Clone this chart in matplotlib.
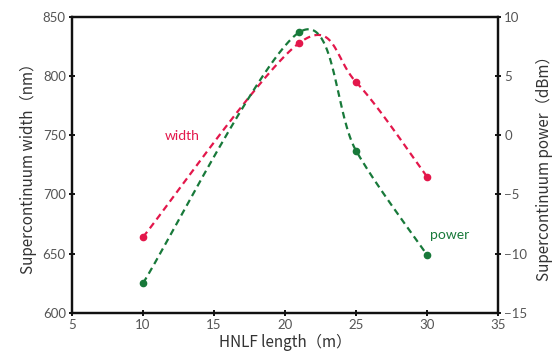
import numpy as np
import matplotlib
matplotlib.use("Agg")
import matplotlib.pyplot as plt

plt.rcParams['font.family'] = ['Lato', 'DejaVu Sans']

length = [10, 21, 25, 30]
width = [664, 828, 795, 715]
power = [-12.5, 8.7, -1.3, -10.1]

red = '#e3174b'
green = '#18793a'


def smooth(xs, ys, n=60):
    # excel-like smoothed line (bezier through the points)
    xs = np.asarray(xs, float)
    ys = np.asarray(ys, float)
    px = np.concatenate([[xs[0]], xs, [xs[-1]]])
    py = np.concatenate([[ys[0]], ys, [ys[-1]]])
    ox, oy = [], []
    t = np.linspace(0, 1, n)
    for i in range(1, len(px) - 2):
        p0x, p0y = px[i], py[i]
        p3x, p3y = px[i + 1], py[i + 1]
        c1x = p0x + (px[i + 1] - px[i - 1]) / 6
        c1y = p0y + (py[i + 1] - py[i - 1]) / 6
        c2x = p3x - (px[i + 2] - px[i]) / 6
        c2y = p3y - (py[i + 2] - py[i]) / 6
        bx = (1-t)**3*p0x + 3*(1-t)**2*t*c1x + 3*(1-t)*t**2*c2x + t**3*p3x
        by = (1-t)**3*p0y + 3*(1-t)**2*t*c1y + 3*(1-t)*t**2*c2y + t**3*p3y
        ox.extend(bx)
        oy.extend(by)
    return ox, oy


fig = plt.figure(figsize=(5.54, 3.6), dpi=100)
ax = fig.add_axes([0.13, 0.131, 0.769, 0.822])
ax2 = ax.twinx()

sx, sy = smooth(length, width)
ax.plot(sx, sy, color=red, lw=1.6, ls=(0, (3, 2)))
ax.plot(length, width, 'o', color=red, ms=4.5)

sx, sy = smooth(length, power)
ax2.plot(sx, sy, color=green, lw=1.6, ls=(0, (3, 2)))
ax2.plot(length, power, 'o', color=green, ms=4.5)

ax.set_xlim(5, 35)
ax.set_ylim(600, 850)
ax2.set_ylim(-15, 10)
ax.set_xticks(range(5, 36, 5))
ax.set_yticks(range(600, 851, 50))
ax2.set_yticks(range(-15, 11, 5))

for a in (ax, ax2):
    for s in a.spines.values():
        s.set_linewidth(1.6)
        s.set_color('#111111')
    a.tick_params(direction='inout', length=5, width=1.3, labelsize=9.5,
                  labelcolor='#555555', pad=2)

ax.set_xlabel('HNLF length（m）', fontsize=11, color='#333333', labelpad=2,
              family=['Noto Sans CJK SC', 'Lato'])
ax.set_ylabel('Supercontinuum width（nm）', fontsize=11, color='#333333',
              labelpad=4, family=['Noto Sans CJK SC', 'Lato'])
ax2.set_ylabel('Supercontinuum power（dBm）', fontsize=11, color='#333333',
               labelpad=6, family=['Noto Sans CJK SC', 'Lato'])

ax.text(12.75, 749, 'width', color=red, fontsize=10, ha='center', va='center')
ax2.text(31.6, -8.4, 'power', color=green, fontsize=10, ha='center', va='center')

fig.savefig('out.png', dpi=100)
